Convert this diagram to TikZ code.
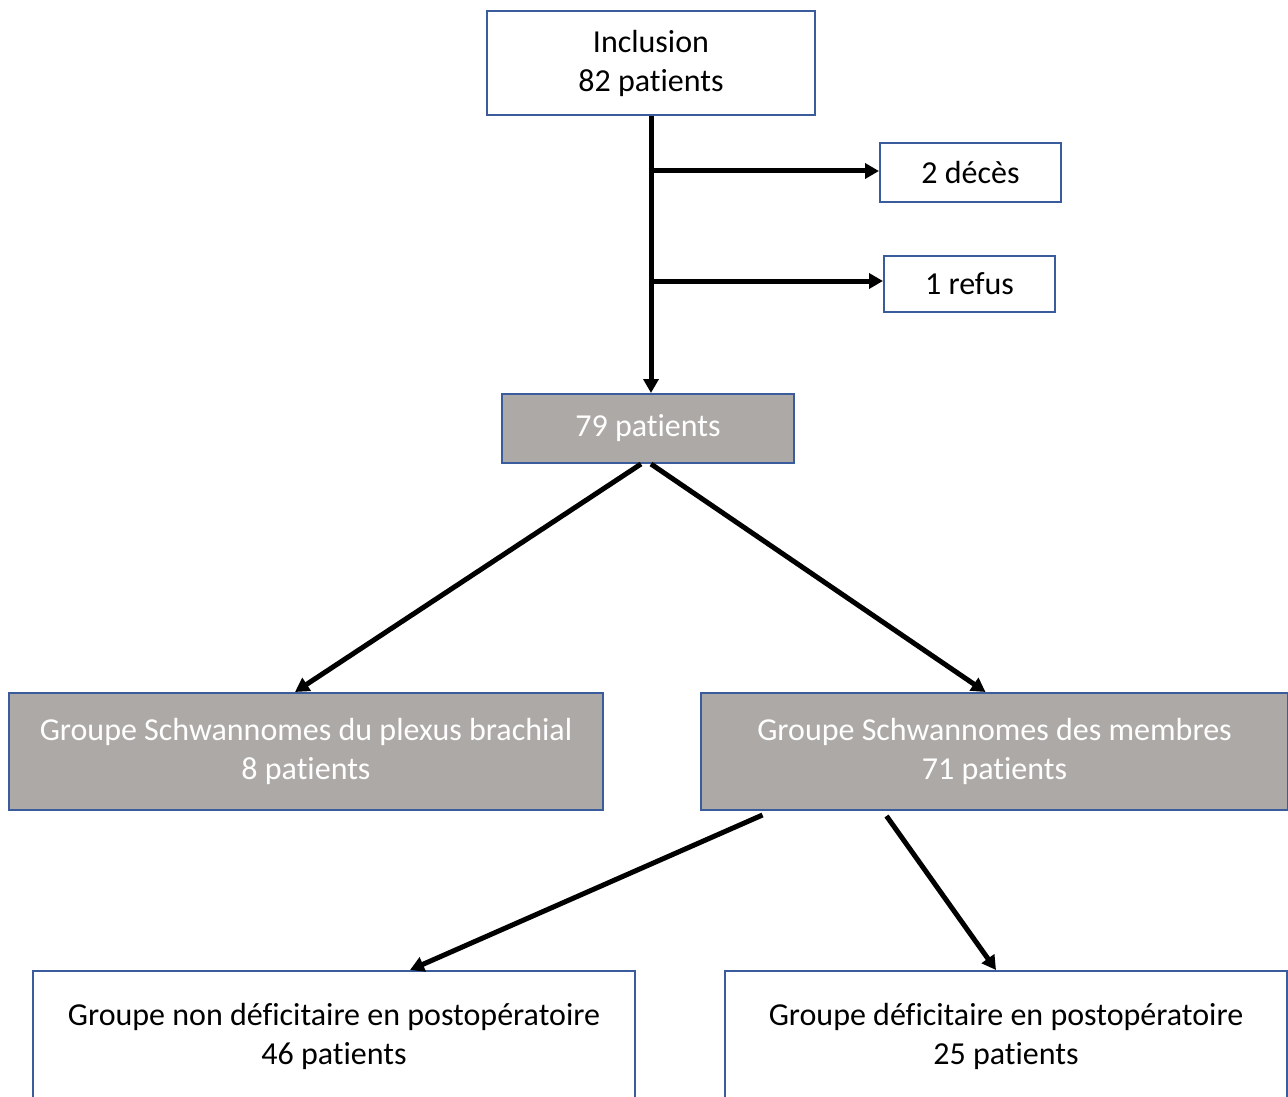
\documentclass[tikz,border=0pt]{standalone}
\usepackage{fontspec}
\setmainfont[Ligatures=NoCommon]{Carlito}
\usetikzlibrary{arrows.meta,positioning}
\definecolor{bordblue}{HTML}{3A5C9C}
\definecolor{boxgray}{HTML}{ADA9A7}
\begin{document}
\begin{tikzpicture}[x=1pt,y=-1pt,
  box/.style={draw=bordblue,line width=2pt,fill=white,align=center,inner sep=0pt,
    font=\fontsize{32}{39}\selectfont,text=black},
  graybox/.style={box,fill=boxgray,text=white},
  arr/.style={line width=5pt,-{Triangle[length=14pt,width=15pt]}},
  plain/.style={line width=5pt}]
\useasboundingbox (0,0) rectangle (1288,1097);
\clip (0,0) rectangle (1288,1097);
\node[box,minimum width=328pt,minimum height=104pt] (inc) at (651,63) {Inclusion\\82 patients};
\node[box,minimum width=181pt,minimum height=59pt] (deces) at (970.5,172.5) {2 décès};
\node[box,minimum width=171pt,minimum height=56pt] (refus) at (969.5,284) {1 refus};
\node[graybox,minimum width=292pt,minimum height=69pt] (n79) at (648,428.5) {79 patients};
\node[graybox,minimum width=594pt,minimum height=117pt] (plex) at (306,751.5) {Groupe Schwannomes du plexus brachial\\8 patients};
\node[graybox,minimum width=587pt,minimum height=117pt] (memb) at (994.5,751.5) {Groupe Schwannomes des membres\\71 patients};
\node[box,minimum width=602pt,minimum height=130pt] (nondef) at (334,1036) {Groupe non déficitaire en postopératoire\\46 patients};
\node[box,minimum width=562pt,minimum height=130pt] (def) at (1006,1036) {Groupe déficitaire en postopératoire\\25 patients};
\coordinate (b1) at (651,171);
\coordinate (b2) at (651,281);
\draw[arr] (inc.south) -- ([xshift=3pt]n79.north);
\draw[arr] (b1) -- (b1 -| deces.west);
\draw[arr] (b2) -- (b2 -| refus.west);
\draw[arr] ([xshift=-7pt]n79.south) -- ([xshift=-11pt]plex.north);
\draw[arr] ([xshift=3pt]n79.south) -- ([xshift=-9pt]memb.north);
\draw[arr] ([xshift=-232pt,yshift=-4pt]memb.south) -- ([xshift=76pt]nondef.north);
\draw[arr] ([xshift=-108pt,yshift=-5pt]memb.south) -- ([xshift=-10pt]def.north);
\end{tikzpicture}
\end{document}
